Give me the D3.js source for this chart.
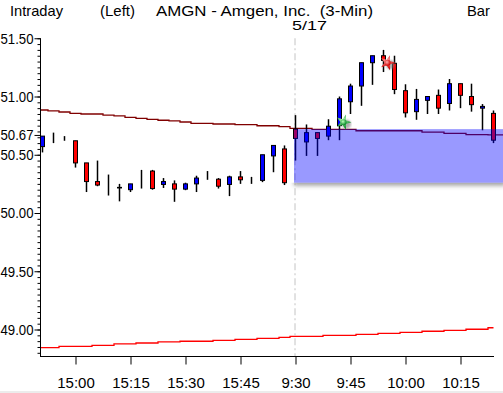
<!DOCTYPE html>
<html>
<head>
<meta charset="utf-8">
<script src="https://cdn.jsdelivr.net/npm/d3@7"></script>
<style>
  body { margin: 0; background: #fff; }
  svg { display: block; font-family: "Liberation Sans", Arial, sans-serif; }
</style>
</head>
<body>
<div class="canvas"></div>
<script>
// 3-minute bars, previous session tail + 5/17 morning
const times = ["14:51", "14:54", "14:57", "15:00", "15:03", "15:06", "15:09", "15:12", "15:15", "15:18",
  "15:21", "15:24", "15:27", "15:30", "15:33", "15:36", "15:39", "15:42", "15:45", "15:48",
  "15:51", "15:54", "15:57",
  "9:30", "9:33", "9:36", "9:39", "9:42", "9:45", "9:48", "9:51", "9:54", "9:57",
  "10:00", "10:03", "10:06", "10:09", "10:12", "10:15", "10:18", "10:21", "10:24"];

const opens = [50.57, 50.64, 50.63, 50.62, 50.43, 50.27, 50.235, 50.22, 50.20, 50.255,
  50.36, 50.245, 50.25, 50.205, 50.25, 50.30, 50.29, 50.245, 50.31, 50.27,
  50.28, 50.49, 50.55,
  50.72, 50.61, 50.69, 50.66, 50.75, 50.955, 51.09, 51.29, 51.35, 51.285,
  51.05, 50.87, 50.967, 51.01, 50.94, 51.11, 51.00, 50.90, 50.855];
const highs = [50.66, 50.69, 50.66, 50.62, 50.43, 50.45, 50.33, 50.25, 50.25, 50.37,
  50.37, 50.30, 50.28, 50.26, 50.32, 50.36, 50.30, 50.32, 50.36, 50.31,
  50.50, 50.58, 50.58,
  50.84, 50.76, 50.69, 50.805, 51.00, 51.11, 51.29, 51.35, 51.40, 51.35,
  51.105, 51.065, 51.00, 51.06, 51.15, 51.11, 51.11, 50.935, 50.88];
const lows = [50.52, 50.60, 50.62, 50.39, 50.18, 50.23, 50.15, 50.10, 50.18, 50.21,
  50.20, 50.215, 50.096, 50.196, 50.18, 50.285, 50.21, 50.145, 50.25, 50.25,
  50.265, 50.35, 50.24,
  50.45, 50.49, 50.49, 50.625, 50.625, 50.85, 50.92, 51.10, 51.21, 51.02,
  50.82, 50.80, 50.85, 50.85, 50.88, 50.90, 50.87, 50.71, 50.60];
const closes = [50.66, 50.64, 50.63, 50.43, 50.27, 50.24, 50.235, 50.215, 50.25, 50.255,
  50.21, 50.27, 50.205, 50.25, 50.30, 50.30, 50.23, 50.31, 50.285, 50.27,
  50.50, 50.58, 50.26,
  50.64, 50.69, 50.64, 50.745, 50.98, 51.09, 51.29, 51.35, 51.31, 51.06,
  50.86, 50.975, 51.00, 50.90, 51.11, 51.01, 50.93, 50.915, 50.625];

// overlay lines (dark red upper, red lower)
const upperLine = [50.884, 50.876, 50.867, 50.856, 50.850, 50.850, 50.841, 50.833, 50.821, 50.813,
  50.804, 50.796, 50.790, 50.781, 50.770, 50.770, 50.764, 50.764, 50.758, 50.758,
  50.749, 50.749, 50.741,
  50.727, 50.727, 50.718, 50.718, 50.718, 50.718, 50.706, 50.706, 50.706, 50.706,
  50.706, 50.706, 50.695, 50.695, 50.684, 50.684, 50.672, 50.672, 50.670];
const lowerLine = [48.844, 48.844, 48.856, 48.856, 48.856, 48.864, 48.864, 48.876, 48.876, 48.884,
  48.884, 48.893, 48.893, 48.899, 48.899, 48.899, 48.907, 48.907, 48.916, 48.916,
  48.924, 48.924, 48.933,
  48.941, 48.941, 48.941, 48.950, 48.950, 48.950, 48.959, 48.959, 48.967, 48.967,
  48.976, 48.976, 48.985, 48.985, 48.993, 48.993, 49.002, 49.002, 49.015];

const signalTimes = ["9:42", "9:54"];
const signalPrices = [50.78, 51.29];
const signalTypes = ["buy", "sell"];

const xTickLabels = ["15:00", "15:15", "15:30", "15:45", "9:30", "9:45", "10:00", "10:15"];
const yTickValues = [49.00, 49.50, 50.00, 50.50, 51.00, 51.50];

const svgWidth = 503, svgHeight = 393;
const plot = { left: 41, right: 503, top: 38.25, bottom: 357 };

const svg = d3.select('.canvas').append('svg')
  .attr("width", svgWidth)
  .attr("height", svgHeight);

svg.append('rect').attr("width", svgWidth).attr("height", svgHeight).attr("fill", "#fff");
svg.append('rect').attr("y", 391).attr("width", svgWidth).attr("height", 2).attr("fill", "#ececec");

const defs = svg.append('defs');
defs.append('filter').attr("id", "blur2").attr("x", "-20%").attr("y", "-50%").attr("width", "140%").attr("height", "200%")
  .append('feGaussianBlur').attr("stdDeviation", 2);
defs.append('filter').attr("id", "blur1").append('feGaussianBlur').attr("stdDeviation", 1.2);
[["gGreen", "#b8ffb8", "#0a8a2a"], ["gRed", "#ffb0b0", "#d00000"]].forEach(g => {
  const rg = defs.append('radialGradient').attr("id", g[0]).attr("cx", "40%").attr("cy", "40%").attr("r", "60%");
  rg.append('stop').attr("offset", "0%").attr("stop-color", g[1]);
  rg.append('stop').attr("offset", "100%").attr("stop-color", g[2]);
});

// scales
const x = d3.scalePoint().domain(times).range([42.5, 493.5]);
const y = d3.scaleLinear().domain([48.764, 51.5]).range([plot.bottom, plot.top]);

// session divider
const xOpen = x("9:30");
svg.append('line')
  .attr("x1", xOpen - 0.5).attr("x2", xOpen - 0.5)
  .attr("y1", plot.top).attr("y2", plot.bottom)
  .attr("stroke", "#c4c4c4")
  .attr("stroke-dasharray", "7,3,2,3");

// overlay lines
const stepLine = d3.line().x(d => d[0]).y(d => y(d[1])).curve(d3.curveStep);
const upperPts = [[plot.left, upperLine[0]]].concat(times.map((t, i) => [x(t), upperLine[i]]));
upperPts.push([plot.right, upperLine[upperLine.length - 1]]);
svg.append('path').attr("d", stepLine(upperPts))
  .attr("fill", "none").attr("stroke", "#800000").attr("stroke-width", 1.3);

const lowerPts = [[plot.left, lowerLine[0]]].concat(times.map((t, i) => [x(t), lowerLine[i]]));
svg.append('path').attr("d", stepLine(lowerPts))
  .attr("fill", "none").attr("stroke", "#ff0000").attr("stroke-width", 1.3);

// candles
const bars = times.map((t, i) => ({ t: t, o: opens[i], h: highs[i], l: lows[i], c: closes[i] }));
const candle = svg.append('g').selectAll('g').data(bars).enter().append('g');

candle.append('line')
  .attr("x1", d => x(d.t)).attr("x2", d => x(d.t))
  .attr("y1", d => y(d.h)).attr("y2", d => y(d.l))
  .attr("stroke", "#000").attr("stroke-width", 1.5);

candle.append('rect')
  .attr("x", d => x(d.t) - 2)
  .attr("width", 4)
  .attr("y", d => y(Math.max(d.o, d.c)))
  .attr("height", d => Math.abs(y(d.o) - y(d.c)))
  .attr("fill", d => d.c >= d.o ? "#0000ff" : "#ff0000")
  .attr("stroke", "#000").attr("stroke-width", 1);

// gap zone between prior close and today's open
const gapTop = opens[times.indexOf("9:30")];
const gapBottom = closes[times.indexOf("9:30") - 1];
defs.append('clipPath').attr("id", "belowGap")
  .append('rect').attr("x", 0).attr("y", y(gapBottom)).attr("width", svgWidth).attr("height", 30);
svg.append('g').attr("clip-path", "url(#belowGap)")
  .append('rect')
  .attr("x", xOpen - 1.5).attr("y", y(gapTop) + 3)
  .attr("width", plot.right - xOpen + 4).attr("height", y(gapBottom) - y(gapTop))
  .attr("fill", "#666").attr("opacity", 0.6)
  .attr("filter", "url(#blur2)");
svg.append('rect')
  .attr("x", xOpen - 1.5).attr("y", y(gapTop))
  .attr("width", plot.right - xOpen + 2).attr("height", y(gapBottom) - y(gapTop))
  .attr("fill", "#0000ff").attr("opacity", 0.4);

// signal markers
const star = d3.symbol().type(d3.symbolStar).size(70);
signalTimes.forEach((t, i) => {
  const cx = x(t) + 4, cy = y(signalPrices[i]);
  svg.append('circle').attr("cx", cx + 3).attr("cy", cy + 2).attr("r", 4.5)
    .attr("fill", "#777").attr("opacity", 0.6).attr("filter", "url(#blur1)");
  svg.append('path').attr("d", star)
    .attr("transform", `translate(${cx} ${cy}) rotate(18)`)
    .attr("fill", signalTypes[i] === "buy" ? "url(#gGreen)" : "url(#gRed)");
  svg.append('circle').attr("cx", cx).attr("cy", cy).attr("r", 3)
    .attr("fill", signalTypes[i] === "buy" ? "url(#gGreen)" : "url(#gRed)");
});

// y axis
const yAxisGroup = svg.append('g').attr("transform", `translate(${plot.left - 0.5} 0)`);
yAxisGroup.call(d3.axisLeft(y).tickValues(d3.range(48.80, 51.501, 0.05)).tickSize(3).tickFormat(""))
  .call(g => g.select('.domain').remove());
const yMajor = yAxisGroup.append('g')
  .call(d3.axisLeft(y)
    .tickValues(yTickValues.concat([upperLine[upperLine.length - 1]]))
    .tickSize(6).tickPadding(1).tickSizeOuter(0)
    .tickFormat(d3.format(".2f")));
yMajor.selectAll('text')
  .attr("font-size", 15).attr("font-family", "Liberation Sans, Arial, sans-serif").attr("fill", "#000")
  .attr("textLength", 33).attr("lengthAdjust", "spacingAndGlyphs");
yMajor.select('.domain').attr("d", `M0,${plot.top}V${plot.bottom}`);

// x axis
const xAxisGroup = svg.append('g').attr("transform", `translate(0 ${plot.bottom - 0.5})`);
xAxisGroup.call(d3.axisBottom(x).tickValues(xTickLabels).tickSize(8).tickSizeOuter(0));
xAxisGroup.select('.domain').attr("d", `M${plot.left - 1},0H494`);
xAxisGroup.selectAll('text')
  .attr("y", 31).attr("dy", 0)
  .attr("font-size", 15).attr("font-family", "Liberation Sans, Arial, sans-serif").attr("fill", "#000");

// header texts
const header = [
  { s: "Intraday", x: 10, y: 16, w: 53, f: 15 },
  { s: "(Left)", x: 100, y: 16, w: 35, f: 15 },
  { s: "AMGN - Amgen, Inc.  (3-Min)", x: 156, y: 16, w: 217, f: 15 },
  { s: "Bar", x: 467, y: 16, w: 23, f: 15 },
  { s: "5/17", x: 292, y: 29.5, w: 35, f: 13 }
];
svg.selectAll('text.hdr').data(header).enter().append('text')
  .attr("class", "hdr")
  .attr("x", d => d.x).attr("y", d => d.y)
  .attr("textLength", d => d.w).attr("lengthAdjust", "spacingAndGlyphs")
  .style("white-space", "pre")
  .attr("font-size", d => d.f).attr("fill", "#000")
  .text(d => d.s);
</script>
</body>
</html>
